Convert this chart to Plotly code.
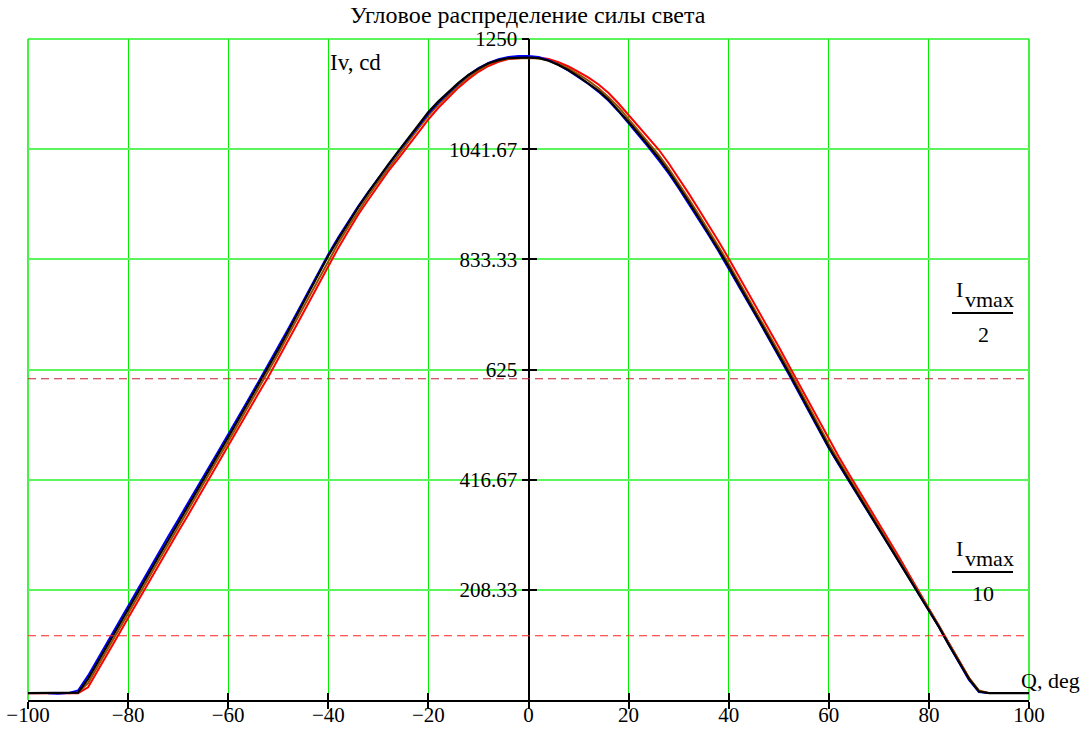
import plotly.graph_objects as go

# Angle grid, degrees
angles = [-100, -98, -96, -94, -92, -90, -88, -86, -84, -82,
          -80, -78, -76, -74, -72, -70, -68, -66, -64, -62,
          -60, -58, -56, -54, -52, -50, -48, -46, -44, -42,
          -40, -38, -36, -34, -32, -30, -28, -26, -24, -22,
          -20, -18, -16, -14, -12, -10, -8, -6, -4, -2,
          0, 2, 4, 6, 8, 10, 12, 14, 16, 18,
          20, 22, 24, 26, 28, 30, 32, 34, 36, 38,
          40, 42, 44, 46, 48, 50, 52, 54, 56, 58,
          60, 62, 64, 66, 68, 70, 72, 74, 76, 78,
          80, 82, 84, 86, 88, 90, 92, 94, 96, 98, 100]

# Luminous intensity, cd (four measured samples)
iv_red = [13, 13, 13, 13, 13, 13, 24, 56, 90, 122,
          155, 188, 220, 253, 286, 318, 350, 383, 416, 448,
          480, 513, 546, 579, 611, 645, 680, 715, 750, 786,
          822, 855, 887, 918, 946, 973, 1000, 1024, 1049, 1074,
          1098, 1120, 1140, 1158, 1174, 1188, 1199, 1207, 1212, 1214,
          1215, 1215, 1212, 1206, 1198, 1188, 1177, 1164, 1148, 1128,
          1106, 1086, 1064, 1041, 1015, 987, 958, 928, 898, 867,
          835, 802, 769, 735, 702, 668, 633, 598, 563, 528,
          493, 460, 428, 397, 366, 335, 304, 271, 238, 206,
          174, 142, 108, 75, 42, 17, 13, None, None, None, None]

iv_brown = [None, None, None, None, 13, 14, 32, 65, 99, 131,
            164, 196, 229, 262, 294, 327, 360, 392, 425, 457,
            489, 522, 555, 588, 621, 655, 690, 725, 760, 796,
            831, 864, 895, 925, 953, 980, 1006, 1031, 1056, 1081,
            1105, 1126, 1145, 1162, 1178, 1191, 1202, 1209, 1213, 1214,
            1214, 1213, 1210, 1203, 1194, 1183, 1171, 1157, 1140, 1121,
            1099, 1077, 1054, 1031, 1005, 977, 948, 918, 888, 857,
            825, 792, 759, 726, 693, 659, 625, 590, 555, 519,
            484, 452, 421, 390, 359, 328, 297, 266, 235, 204,
            173, 141, 107, 75, 42, 18, 13, None, None, None, None]

iv_blue = [None, None, 13, 12, 13, 18, 46, 79, 113, 146,
           178, 211, 243, 276, 309, 341, 374, 406, 438, 470,
           502, 535, 568, 601, 634, 667, 702, 737, 772, 808,
           843, 875, 905, 934, 961, 987, 1012, 1037, 1061, 1086,
           1109, 1130, 1149, 1166, 1182, 1195, 1205, 1212, 1216, 1218,
           1218, 1216, 1210, 1201, 1190, 1178, 1165, 1150, 1133, 1113,
           1091, 1068, 1045, 1021, 996, 968, 939, 909, 879, 848,
           816, 783, 750, 717, 684, 650, 616, 581, 546, 511,
           476, 445, 414, 384, 353, 322, 292, 262, 231, 200,
           170, 138, 104, 71, 38, 15, 13, None, None, None, None]

iv_black = [13, 13, 13, 13, 13, 14, 40, 73, 107, 139,
            172, 204, 237, 270, 302, 335, 368, 400, 433, 465,
            497, 530, 563, 596, 629, 663, 698, 733, 768, 804,
            840, 872, 903, 932, 960, 987, 1013, 1038, 1063, 1089,
            1112, 1132, 1150, 1167, 1182, 1194, 1204, 1210, 1214, 1215,
            1215, 1214, 1209, 1201, 1191, 1179, 1166, 1152, 1135, 1115,
            1093, 1071, 1048, 1025, 999, 971, 942, 912, 882, 851,
            819, 786, 753, 720, 687, 653, 619, 584, 549, 513,
            478, 447, 416, 385, 354, 323, 292, 262, 231, 200,
            170, 138, 104, 72, 40, 16, 13, 13, 13, 13, 13]

x_ticks = [-100, -80, -60, -40, -20, 0, 20, 40, 60, 80, 100]
y_ticks = [208.33, 416.67, 625, 833.33, 1041.67, 1250]
y_tick_text = ["208.33", "416.67", "625", "833.33", "1041.67", "1250"]

iv_max = max(iv_black)
half_level = iv_max / 2
tenth_level = iv_max / 10

FONT = "Liberation Serif, Times New Roman, serif"
GRID_V = "#00f000"
GRID_H = "#5cf55c"

# Plot frame in pixels (used for label placement)
M_L, M_R, M_T, M_B = 28, 52, 39, 29
W, H = 1081, 729
PH = H - M_T - M_B
PW = W - M_L - M_R


def py(ypx):
    """Pixel row -> paper y fraction."""
    return (H - M_B - ypx) / PH


def px(xpx):
    """Pixel column -> paper x fraction."""
    return (xpx - M_L) / PW


fig = go.Figure()

series = [(iv_red, "#ff0000", 2), (iv_brown, "#994c00", 2),
          (iv_blue, "#0000ff", 2), (iv_black, "#000000", 2.2)]
for vals, col, w in series:
    fig.add_trace(go.Scatter(x=angles, y=vals, mode="lines",
                             line=dict(color=col, width=w),
                             connectgaps=False, showlegend=False,
                             hoverinfo="x+y"))

# Half-maximum and tenth-maximum reference levels
for lvl, col in ((half_level, "#c02030"), (tenth_level, "#ff2020")):
    fig.add_trace(go.Scatter(x=[x_ticks[0], x_ticks[-1]], y=[lvl, lvl],
                             mode="lines",
                             line=dict(color=col, width=1, dash="8px,5px"),
                             showlegend=False, hoverinfo="skip"))

# Empty traces that bring up the crossing-tick overlay axes
fig.add_trace(go.Scatter(x=[None], y=[None], xaxis="x2", yaxis="y",
                         showlegend=False, hoverinfo="skip"))
fig.add_trace(go.Scatter(x=[None], y=[None], xaxis="x", yaxis="y2",
                         showlegend=False, hoverinfo="skip"))

tick_font = dict(family=FONT, size=21, color="black")

fig.update_layout(
    width=W, height=H,
    margin=dict(l=M_L, r=M_R, t=M_T, b=M_B, autoexpand=False),
    paper_bgcolor="white", plot_bgcolor="white",
    font=dict(family=FONT, size=20, color="black"),
    # bottom axis: line, grid and the downward half of each tick
    xaxis=dict(range=[-100, 100], domain=[0, 1], tickvals=x_ticks,
               showgrid=True, gridcolor=GRID_V, gridwidth=1,
               ticks="outside", ticklen=7, tickwidth=1.5, tickcolor="black",
               showticklabels=False, showline=True, linecolor="black",
               linewidth=1.5, zeroline=True, zerolinecolor="black",
               zerolinewidth=1.5, anchor="y", automargin=False,
               fixedrange=True),
    # upward half of each tick, plus the tick labels
    xaxis2=dict(range=[-100, 100], domain=[0, 1], tickvals=x_ticks,
                overlaying="x", anchor="y", side="bottom",
                ticks="inside", ticklen=7, tickwidth=1.5, tickcolor="black",
                showticklabels=True, tickfont=tick_font,
                showgrid=False, zeroline=False,
                showline=False, automargin=False, fixedrange=True),
    yaxis=dict(range=[0, 1250], anchor="free", position=0.5,
               tickvals=y_ticks, ticktext=y_tick_text,
               showgrid=True, gridcolor=GRID_H, gridwidth=1.5,
               ticks="outside", ticklen=7, tickwidth=1.5, tickcolor="black",
               tickfont=tick_font, showline=False, zeroline=False,
               automargin=False, fixedrange=True),
    yaxis2=dict(range=[0, 1250], anchor="free", position=0.5,
                overlaying="y", tickvals=y_ticks,
                ticks="inside", ticklen=7, tickwidth=1.5, tickcolor="black",
                showticklabels=False, showgrid=False, zeroline=False,
                showline=False, automargin=False, fixedrange=True),
)

# Green frame on the top, left and right edges
fig.add_shape(type="line", xref="paper", yref="paper", x0=0, x1=1, y0=1, y1=1,
              line=dict(color=GRID_H, width=2), layer="below")
for xe in (0, 1):
    fig.add_shape(type="line", xref="paper", yref="paper", x0=xe, x1=xe,
                  y0=0, y1=1, line=dict(color=GRID_V, width=1.5),
                  layer="below")


def label(text, x, y, size=22, xanchor="center"):
    fig.add_annotation(text=text, xref="paper", yref="paper", x=x, y=y,
                       showarrow=False, xanchor=xanchor, yanchor="middle",
                       font=dict(family=FONT, size=size, color="black"))


label("Угловое распределение силы света", px(528), py(15), size=24)
label("Iv, cd", px(355), py(62), size=23)
label("Q, deg", px(1050), py(680), size=22)

# Fraction labels beside the reference levels
for bar_px, denom in ((313, "2"), (572, "10")):
    fig.add_shape(type="line", xref="paper", yref="paper",
                  x0=px(952), x1=px(1013), y0=py(bar_px), y1=py(bar_px),
                  line=dict(color="black", width=2))
    label("I", px(959), py(bar_px - 24), size=22)
    label("vmax", px(963), py(bar_px - 14), size=22, xanchor="left")
    label(denom, px(983), py(bar_px + 21), size=22)

fig.write_html("out.html")
